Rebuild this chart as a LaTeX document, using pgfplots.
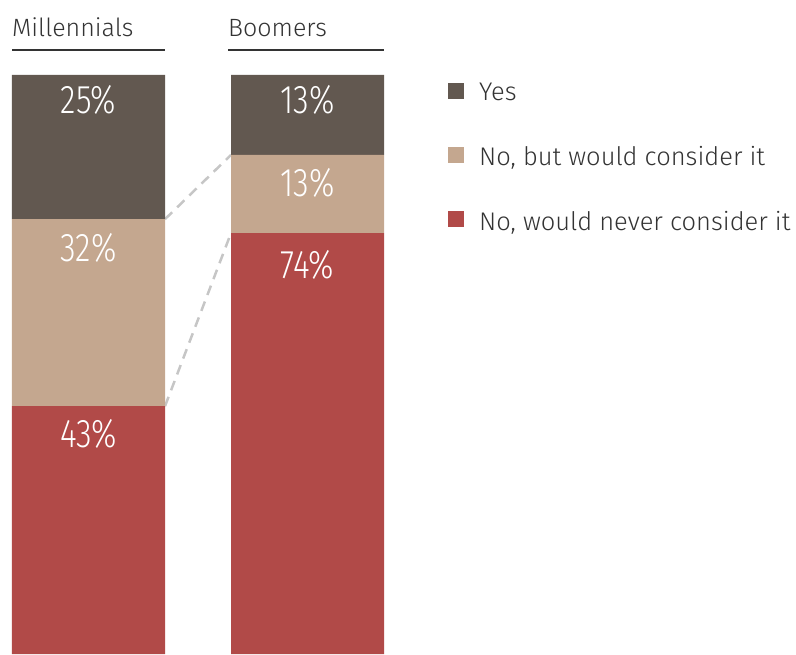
\documentclass[border=0pt]{standalone}
\usepackage{fontspec}
\setmainfont{Fira Sans Light}
\newfontfamily\condfont[FakeStretch=0.8]{Fira Sans Light}
\usepackage{pgfplots}
\pgfplotsset{compat=1.18}
\definecolor{cdark}{HTML}{625850}
\definecolor{ctan}{HTML}{C4A78F}
\definecolor{cred}{HTML}{B14A48}
\definecolor{cdash}{HTML}{C6C6C6}
\definecolor{ctext}{HTML}{333333}
\tikzset{pct/.style={anchor=north, inner sep=0pt, text=white, font=\condfont\fontsize{40}{42}\selectfont}}
\begin{document}
\begin{tikzpicture}[x=1pt,y=1pt]
\path[use as bounding box] (0,0) rectangle (796,654);
\begin{axis}[
  at={(12pt,0pt)}, anchor=south west,
  scale only axis, width=372pt, height=579pt,
  xmin=12, xmax=384, ymin=0, ymax=100,
  axis lines=none, clip=false,
  ybar stacked, bar width=153pt,
  legend image code/.code={\fill[#1] (0pt,-6pt) rectangle (16pt,10pt);},
  reverse legend,
  legend cell align=left,
  legend style={at={(axis description cs:1.172,0.987)}, anchor=north west,
    draw=none, fill=none, inner sep=0pt, text=ctext,
    font=\fontsize{25.5}{30}\selectfont,
    nodes={inner sep=0pt}, row sep=44pt, column sep=15pt},
]
\addplot[fill=cred, draw=none] coordinates {(88.5,42.8) (307.5,72.7)};
\addplot[fill=ctan, draw=none] coordinates {(88.5,32.3) (307.5,13.5)};
\addplot[fill=cdark, draw=none] coordinates {(88.5,24.9) (307.5,13.8)};
\legend{{No, would never consider it}, {No, but would consider it}, Yes}
\draw[cdash, line width=2.5pt, dash pattern=on 10pt off 7pt] (axis cs:165,75.1) -- (axis cs:231,86.2);
\draw[cdash, line width=2.5pt, dash pattern=on 10pt off 7pt] (axis cs:165,42.8) -- (axis cs:231,72.7);
\coordinate (m1) at (axis cs:88.5,98.3);
\coordinate (m2) at (axis cs:88.5,72.7);
\coordinate (m3) at (axis cs:88.5,40.6);
\coordinate (b1) at (axis cs:307.5,98.3);
\coordinate (b2) at (axis cs:307.5,83.9);
\coordinate (b3) at (axis cs:307.5,69.8);
\end{axis}
\node[pct] at (m1) {25\%};
\node[pct] at (m2) {32\%};
\node[pct] at (m3) {43\%};
\node[pct] at (b1) {13\%};
\node[pct] at (b2) {13\%};
\node[pct] at (b3) {74\%};
\node[anchor=base west, inner sep=0pt, text=ctext, font=\fontsize{25}{30}\selectfont] at (12,617) {Millennials};
\node[anchor=base west, inner sep=0pt, text=ctext, font=\fontsize{25}{30}\selectfont] at (228,617) {Boomers};
\draw[ctext, line width=1.3pt] (12,604) -- (165,604);
\draw[ctext, line width=1.3pt] (228,604) -- (384,604);
\end{tikzpicture}
\end{document}
